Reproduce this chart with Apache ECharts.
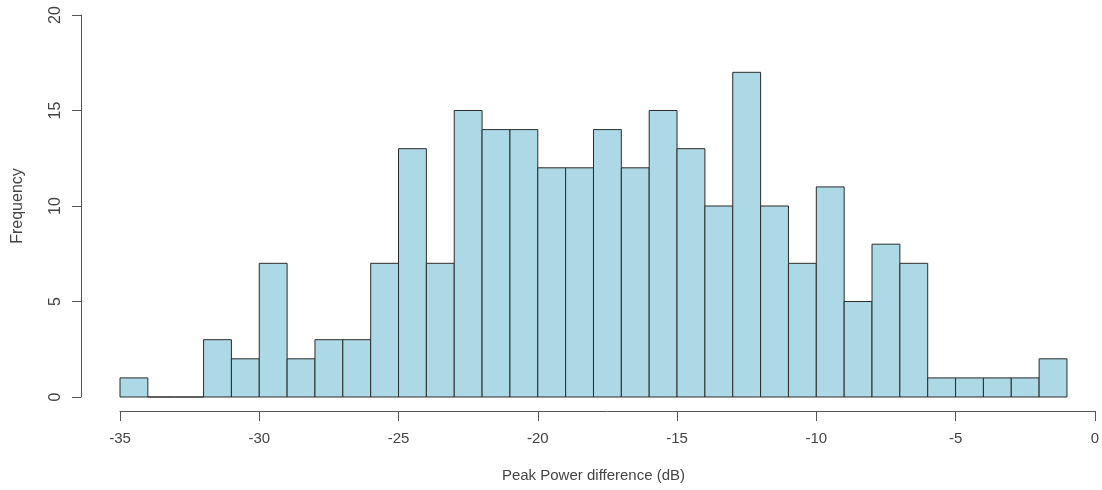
<!DOCTYPE html>
<html>
<head>
<meta charset="utf-8">
<script src="https://cdn.jsdelivr.net/npm/echarts@6/dist/echarts.min.js"></script>
<style>html,body{margin:0;padding:0;background:#fff;}#c{width:1102px;height:490px;}</style>
</head>
<body>
<div id="c"></div>
<script>
const binStarts = [-35,-34,-33,-32,-31,-30,-29,-28,-27,-26,-25,-24,-23,-22,-21,-20,-19,-18,-17,-16,-15,-14,-13,-12,-11,-10,-9,-8,-7,-6,-5,-4,-3,-2];
const binWidth = 1;
const counts = [1,0,0,3,2,7,2,3,3,7,13,7,15,14,14,12,12,14,12,15,13,10,17,10,7,11,5,8,7,1,1,1,1,2];
const xTitle = 'Peak Power difference (dB)';
const yTitle = 'Frequency';

const data = binStarts.map((s,i)=>[s, s+binWidth, counts[i]]);
const font = 'Liberation Sans';
const txt = '#444';

const chart = echarts.init(document.getElementById('c'), null, {renderer:'canvas'});
chart.setOption({
  animation:false,
  backgroundColor:'#fff',
  grid:{left:120,right:7,top:15,bottom:93},
  xAxis:{
    type:'value', min:-35, max:0, interval:5, offset:14,
    axisLine:{show:true,onZero:false,lineStyle:{color:'#555',width:1}},
    axisTick:{show:true,length:10,lineStyle:{color:'#555'}},
    axisLabel:{margin:20,fontFamily:font,fontSize:15,color:txt},
    splitLine:{show:false}
  },
  yAxis:{
    type:'value', min:0, max:20, interval:5, offset:39,
    name:yTitle, nameLocation:'middle', nameGap:55, nameRotate:90,
    nameTextStyle:{fontFamily:font,fontSize:16,color:txt},
    axisLine:{show:true,onZero:false,lineStyle:{color:'#555',width:1}},
    axisTick:{show:true,length:9,lineStyle:{color:'#555'}},
    axisLabel:{rotate:90,margin:17,fontFamily:font,fontSize:16,color:txt},
    splitLine:{show:false}
  },
  series:[{
    type:'custom',
    data:data,
    encode:{x:[0,1],y:2},
    renderItem:function(params,api){
      const p0 = api.coord([api.value(0),0]);
      const p1 = api.coord([api.value(1),api.value(2)]);
      return {
        type:'rect',
        shape:{x:p0[0],y:p1[1],width:p1[0]-p0[0],height:p0[1]-p1[1]},
        style:{fill:'#ADD8E6',stroke:'#2b2b2b',lineWidth:1}
      };
    }
  }]
});
// x title centred on R's plot region (data range of bins)
const cx = chart.convertToPixel({xAxisIndex:0}, (binStarts[0] + binStarts[binStarts.length-1] + binWidth)/2);
chart.setOption({
  graphic:[{type:'text', x:cx, y:476, style:{text:xTitle, fontFamily:font, fontSize:15, fill:txt, align:'center', verticalAlign:'middle'}}]
});
</script>
</body>
</html>
